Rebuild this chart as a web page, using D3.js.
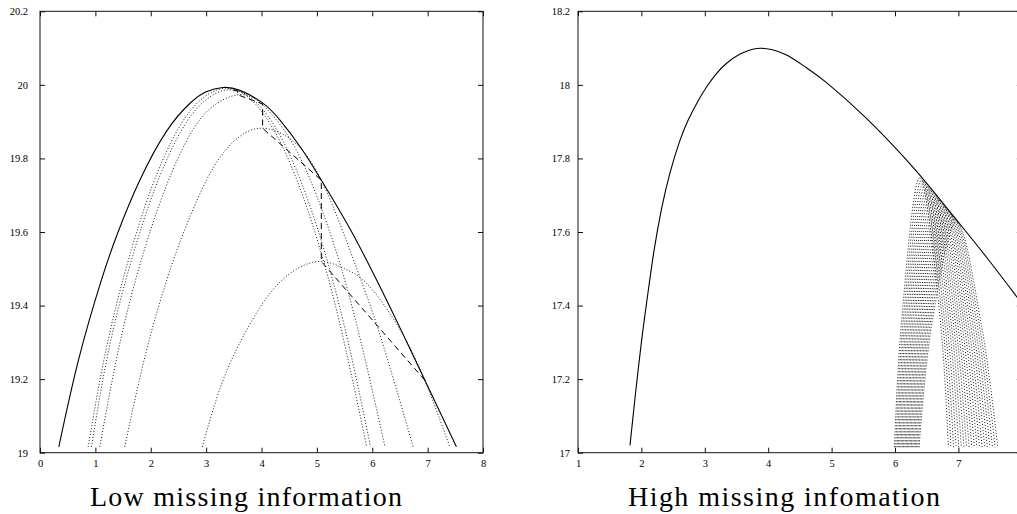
<!DOCTYPE html>
<html><head><meta charset="utf-8">
<script src="https://cdn.jsdelivr.net/npm/d3@7"></script>
<style>body{margin:0;background:#fff}svg{display:block}</style>
</head><body>
<svg id="c" width="1017" height="514"></svg>
<script>
// ---------- Left panel data (Low missing information) ----------
const lowXTicks = [0,1,2,3,4,5,6,7,8];
const lowYTicks = [19,19.2,19.4,19.6,19.8,20,20.2];
const lowYLabels = ["19","19.2","19.4","19.6","19.8","20","20.2"];
const lowTitle = "Low missing information";

const lowLikX = [0.34,0.7,1.11,1.41,1.8,2.29,2.71,3.0,3.3,3.61,4.0,4.33,4.72,5.08,5.6,6.14,6.56,6.95,7.52];
const lowLikY = [19.016,19.255,19.47,19.6,19.74,19.875,19.95,19.981,19.993,19.985,19.953,19.905,19.827,19.741,19.608,19.451,19.321,19.197,19.016];

const lowBoundAX = [2.93,3.3,3.73,4.15,4.6,5.08,5.5,5.9,6.44,6.92,7.4];
const lowBoundAY = [19.016,19.195,19.333,19.433,19.496,19.52,19.5,19.46,19.35,19.207,19.016];
const lowBoundBX = [1.53,1.9,2.29,2.65,3.13,3.61,4.02,4.5,5.08,5.72,6.14,6.74];
const lowBoundBY = [19.016,19.264,19.47,19.62,19.775,19.86,19.882,19.855,19.741,19.5,19.32,19.016];
const lowBoundCX = [1.08,1.5,2.016,2.5,3.0,3.57,4.0,4.5,5.0,5.6,6.23];
const lowBoundCY = [19.016,19.336,19.614,19.803,19.925,19.973,19.948,19.856,19.697,19.417,19.016];
const lowBoundDX = [0.93,1.3,1.835,2.3,2.8,3.42,4.0,4.5,5.0,5.5,5.97];
const lowBoundDY = [19.016,19.32,19.614,19.8,19.93,19.987,19.937,19.813,19.615,19.342,19.016];
const lowBoundEX = [0.87,1.25,1.775,2.25,2.75,3.35,3.9,4.4,4.9,5.4,5.9];
const lowBoundEY = [19.016,19.32,19.614,19.807,19.936,19.991,19.946,19.826,19.63,19.36,19.016];

const lowPathX = [6.95,5.08,5.08,4.02,4.02,3.57,3.57,3.42];
const lowPathY = [19.197,19.52,19.741,19.882,19.948,19.973,19.983,19.987];

// ---------- Right panel data (High missing infomation) ----------
const highXTicks = [1,2,3,4,5,6,7];
const highYTicks = [17,17.2,17.4,17.6,17.8,18,18.2];
const highYLabels = ["17","17.2","17.4","17.6","17.8","18","18.2"];
const highTitle = "High missing infomation";

const highLikX = [1.82,1.9,2.0,2.1,2.2,2.32,2.45,2.6,2.74,2.9,3.03,3.18,3.34,3.55,3.82,4.05,4.29,4.6,4.92,5.55,6.18,6.57,6.97,7.45,7.92,8.0];
const highLikY = [17.02,17.15,17.3,17.43,17.55,17.665,17.76,17.845,17.905,17.958,17.995,18.03,18.058,18.083,18.099,18.096,18.081,18.047,18.006,17.909,17.796,17.718,17.633,17.53,17.424,17.406];

// one entry per lower-bound arch (first iteration first)
const archFootY = 17.015;
const archMidY = 17.35;
const archLeftFoot = [6.380,6.360,6.339,6.319,6.298,6.278,6.257,6.237,6.216,6.196,6.175,6.155,6.134,6.114,6.093,6.073,6.052,6.032,6.011,5.991];
const archLeftMid  = [6.580,6.555,6.529,6.504,6.479,6.454,6.428,6.403,6.378,6.353,6.327,6.302,6.277,6.252,6.226,6.201,6.176,6.151,6.125,6.100];
const archPeakX    = [6.970,6.940,6.909,6.879,6.848,6.818,6.787,6.757,6.726,6.696,6.665,6.635,6.604,6.574,6.543,6.513,6.482,6.452,6.421,6.391];
const archPeakY    = [17.629,17.635,17.642,17.648,17.654,17.660,17.667,17.673,17.679,17.686,17.692,17.698,17.704,17.711,17.717,17.723,17.729,17.736,17.742,17.748];
const archRightMid = [7.360,7.326,7.293,7.259,7.225,7.192,7.158,7.124,7.091,7.057,7.023,6.990,6.956,6.922,6.888,6.855,6.821,6.787,6.754,6.720];
const archRightFoot= [7.620,7.579,7.538,7.497,7.456,7.415,7.374,7.333,7.292,7.251,7.210,7.169,7.128,7.087,7.046,7.005,6.964,6.923,6.882,6.841];

// ---------- drawing ----------
const svg = d3.select("#c");
const FONT = "Liberation Serif, Times New Roman, serif";
const zip = (xs, ys) => xs.map((v,i)=>[v, ys[i]]);

function panel(cfg){
  const g = svg.append("g");
  const x = d3.scaleLinear().domain(cfg.xDomain).range(cfg.xRange);
  const y = d3.scaleLinear().domain(cfg.yDomain).range(cfg.yRange);
  const [x0,x1] = cfg.xRange, [y0,y1] = cfg.yRange;

  g.append("rect").attr("x",x0).attr("y",y1).attr("width",x1-x0).attr("height",y0-y1)
    .attr("fill","none").attr("stroke","#111").attr("stroke-width",1);

  const style = sel => { sel.select(".domain").remove();
    sel.attr("font-family",FONT).attr("font-size",10.5);
    sel.selectAll("line").attr("stroke","#111");
    sel.selectAll("text").attr("font-family",FONT).attr("font-size",10.5).attr("fill","#000"); };

  g.append("g").attr("transform",`translate(0,${y0})`)
    .call(d3.axisBottom(x).tickValues(cfg.xTicks).tickSize(-5).tickSizeOuter(0).tickPadding(7).tickFormat(d=>String(d)))
    .call(style);
  g.append("g").attr("transform",`translate(0,${y1})`)
    .call(d3.axisTop(x).tickValues(cfg.xTicks).tickSize(-5).tickSizeOuter(0).tickFormat(""))
    .call(style);
  g.append("g").attr("transform",`translate(${x0},0)`)
    .call(d3.axisLeft(y).tickValues(cfg.yTicks).tickSize(-5).tickSizeOuter(0).tickPadding(cfg.yPad)
      .tickFormat((d,i)=>cfg.yLabels[i]))
    .call(style);
  g.append("g").attr("transform",`translate(${x1},0)`)
    .call(d3.axisRight(y).tickValues(cfg.yTicks).tickSize(-5).tickSizeOuter(0).tickFormat(""))
    .call(style);

  const smooth = d3.line().x(d=>x(d[0])).y(d=>y(d[1])).curve(d3.curveNatural);
  const arch = d3.line().x(d=>x(d[0])).y(d=>y(d[1])).curve(d3.curveCatmullRom.alpha(0.5));
  const plot = g.append("g");

  cfg.bounds.forEach(pts=>{
    plot.append("path").attr("d",(cfg.archStyle?arch:smooth)(pts)).attr("fill","none")
      .attr("stroke","#000").attr("stroke-width",0.9).attr("stroke-dasharray","1,2");
  });
  if (cfg.path) {
    plot.append("path").attr("d",d3.line().x(d=>x(d[0])).y(d=>y(d[1]))(cfg.path))
      .attr("fill","none").attr("stroke","#000").attr("stroke-width",1).attr("stroke-dasharray","6,4");
  }
  plot.append("path").attr("d",smooth(cfg.lik)).attr("fill","none")
    .attr("stroke","#000").attr("stroke-width",1.1);

  svg.append("text").attr("x",cfg.titleX).attr("y",505.5).attr("text-anchor","middle")
    .attr("font-family",FONT).attr("font-size",28).attr("fill","#000")
    .attr("textLength",312).attr("lengthAdjust","spacing").text(cfg.title);
}

panel({
  xDomain:[0,8], xRange:[40,483], yDomain:[19,20.2], yRange:[452.7,11.3],
  xTicks:lowXTicks, yTicks:lowYTicks, yLabels:lowYLabels, yPad:12,
  lik: zip(lowLikX, lowLikY),
  bounds:[zip(lowBoundAX,lowBoundAY),zip(lowBoundBX,lowBoundBY),zip(lowBoundCX,lowBoundCY),
          zip(lowBoundDX,lowBoundDY),zip(lowBoundEX,lowBoundEY)],
  archStyle:false,
  path: zip(lowPathX, lowPathY),
  title: lowTitle, titleX: 246
});

const arches = archPeakX.map((p,i)=>[
  [archLeftFoot[i],archFootY],[archLeftMid[i],archMidY],[p,archPeakY[i]],
  [archRightMid[i],archMidY],[archRightFoot[i],archFootY]]);

panel({
  xDomain:[1,8], xRange:[578,1021.8], yDomain:[17,18.2], yRange:[452.7,11.3],
  xTicks:highXTicks, yTicks:highYTicks, yLabels:highYLabels, yPad:8,
  lik: zip(highLikX, highLikY),
  bounds: arches, archStyle:true,
  path: null,
  title: highTitle, titleX: 784
});
</script>
</body></html>
